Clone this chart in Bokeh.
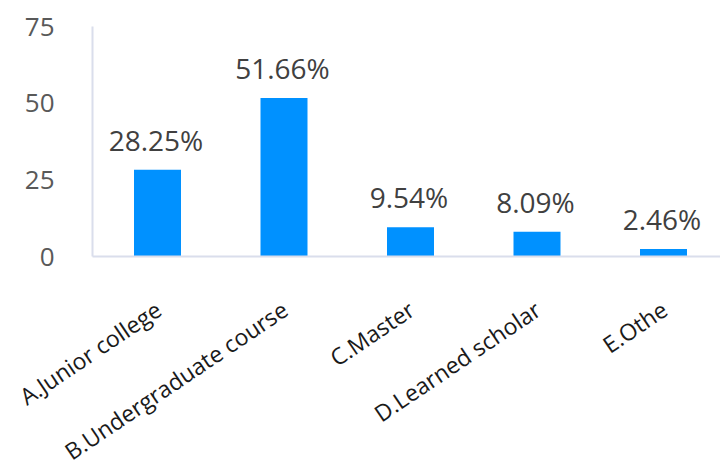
import math
from bokeh.plotting import figure
from bokeh.models import ColumnDataSource, LabelSet, Range1d, FixedTicker
from bokeh.core.properties import value
from bokeh.embed import file_html
from bokeh.resources import INLINE

categories = ["A.Junior college", "B.Undergraduate course", "C.Master", "D.Learned scholar", "E.Othe"]
values = [28.25, 51.66, 9.54, 8.09, 2.46]
value_labels = ["28.25%", "51.66%", "9.54%", "8.09%", "2.46%"]
y_ticks = [0, 25, 50, 75]

FONT = "Open Sans"
BAR = "#0091ff"
AXIS = "#dadeec"

idx = list(range(len(categories)))
src = ColumnDataSource(dict(x=idx, top=values, cat=categories, lab=value_labels,
                            zero=[0] * len(categories)))

W, H = 720, 465
X0, X1 = -1.2411, 4.4506     # visible x extent (category units)
XAX = -0.5138                # where the value axis stands
Y0, Y1 = -68.15, 83.48       # visible y extent

p = figure(width=W, height=H, output_backend="svg", toolbar_location=None,
           x_range=Range1d(X0, X1), y_range=Range1d(Y0, Y1),
           min_border_left=0, min_border_right=0, min_border_top=0, min_border_bottom=0)

p.vbar(x="x", top="top", width=0.3715, source=src, fill_color=BAR, line_color=None)

vals = LabelSet(x="x", y="top", text="lab", source=src, text_align="center",
                text_baseline="alphabetic", y_offset=19, x_offset=-1.5,
                text_font_size="28px", text_color="#404040", text_font=value(FONT))
p.add_layout(vals)

cats = LabelSet(x="x", y="zero", text="cat", source=src, text_align="right",
                text_baseline="middle", angle=math.radians(34), x_offset=1, y_offset=-50,
                text_font_size="23px", text_color="#1a1a1a", text_font=value(FONT))
p.add_layout(cats)

p.yaxis.fixed_location = XAX
p.yaxis.bounds = (0, 75)
p.yaxis.ticker = FixedTicker(ticks=y_ticks)
p.yaxis.major_label_text_font_size = "26px"
p.yaxis.major_label_text_color = "#595959"
p.yaxis.major_label_text_font = FONT
p.yaxis.major_tick_line_color = None
p.yaxis.minor_tick_line_color = None
p.yaxis.major_label_standoff = 32
p.yaxis.axis_line_color = AXIS
p.yaxis.axis_line_width = 2

p.xaxis.fixed_location = 0
p.xaxis.bounds = (XAX, X1)
p.xaxis.ticker = FixedTicker(ticks=[])
p.xaxis.major_tick_line_color = None
p.xaxis.minor_tick_line_color = None
p.xaxis.axis_line_color = AXIS
p.xaxis.axis_line_width = 2

p.xgrid.visible = False
p.ygrid.visible = False
p.outline_line_color = None
p.background_fill_color = "white"
p.border_fill_color = "white"

open("out.html", "w").write(file_html(p, INLINE))
